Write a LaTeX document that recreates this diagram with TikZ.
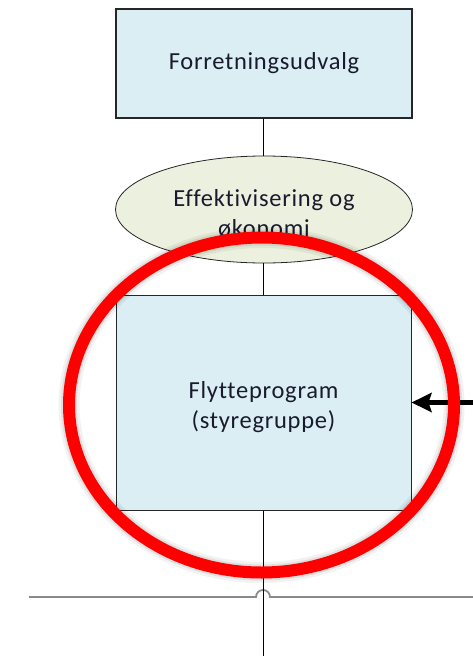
\documentclass[tikz,border=0pt]{standalone}
\usepackage{fontspec}
\setmainfont{Carlito}[LetterSpace=3,Ligatures=NoCommon]
\usetikzlibrary{shapes.geometric,arrows.meta}
\definecolor{boxblue}{HTML}{DAEEF3}
\definecolor{ovalgreen}{HTML}{EBF1DE}
\definecolor{txt}{HTML}{1A1A2E}
\definecolor{ringred}{HTML}{FF0000}
\definecolor{rulegray}{HTML}{8A8A8A}
\begin{document}
\begin{tikzpicture}[x=1pt,y=-1pt,
  orgbox/.style={draw=black!85,fill=boxblue,rectangle,inner sep=0pt,
    font=\fontsize{24.5}{30}\selectfont,text=txt,align=center},
  orgoval/.style={draw=black!85,fill=ovalgreen,ellipse,inner sep=0pt},
  orgtext/.style={font=\fontsize{24.5}{30.5}\selectfont,text=txt,align=center,inner sep=0pt},
  link/.style={draw=black,line width=1pt},
  ring/.style={draw=ringred,line width=12pt}]
\useasboundingbox (0,0) rectangle (473,656);

% boxes of the chart
\node[orgbox,line width=1.5pt,minimum width=296pt,minimum height=109pt] (udvalg) at (264,63.5) {Forretningsudvalg};
\node[orgoval,line width=0.8pt,minimum width=297pt,minimum height=107pt] (oekonomi) at (264,209.5) {};
\node[orgtext,anchor=north] (oekotxt) at (264,189) {Effektivisering og\\økonomi};
\node[orgbox,line width=1pt,minimum width=295pt,minimum height=215pt] (flytte) at (263.5,402.5) {};
\node[orgtext] (flyttetxt) at (263.5,407) {Flytteprogram\\(styregruppe)};

% connectors
\draw[link] (udvalg.south -| 263,0) -- (oekonomi.north -| 263,0);
\draw[link] (oekonomi.south -| 263,0) -- (flytte.north -| 263,0);
\coordinate (bottom) at (263,656);
\coordinate (side) at (473,402.5);
\draw[link,line width=4.5pt,-{Stealth[length=20pt,width=19pt,inset=3pt]}] (side) -- (flytte.east);

% horizontal rule with a hop over the vertical line
\coordinate (ruleL) at (29,597);
\coordinate (ruleR) at (473,597);
\draw[rulegray,line width=1.8pt] (ruleL) -- (256,597) arc[start angle=180,end angle=360,radius=7] -- (ruleR);
\draw[link] (flytte.south -| 263,0) -- (bottom);

% highlight ring with soft shadow
\draw[black,opacity=0.05,line width=21pt] (261.5,405) ellipse[x radius=192.5,y radius=167.5];
\draw[black,opacity=0.08,line width=16pt] (261.5,405) ellipse[x radius=192.5,y radius=167.5];
\draw[ring] (261.5,405) ellipse[x radius=192.5,y radius=167.5];
\end{tikzpicture}
\end{document}
